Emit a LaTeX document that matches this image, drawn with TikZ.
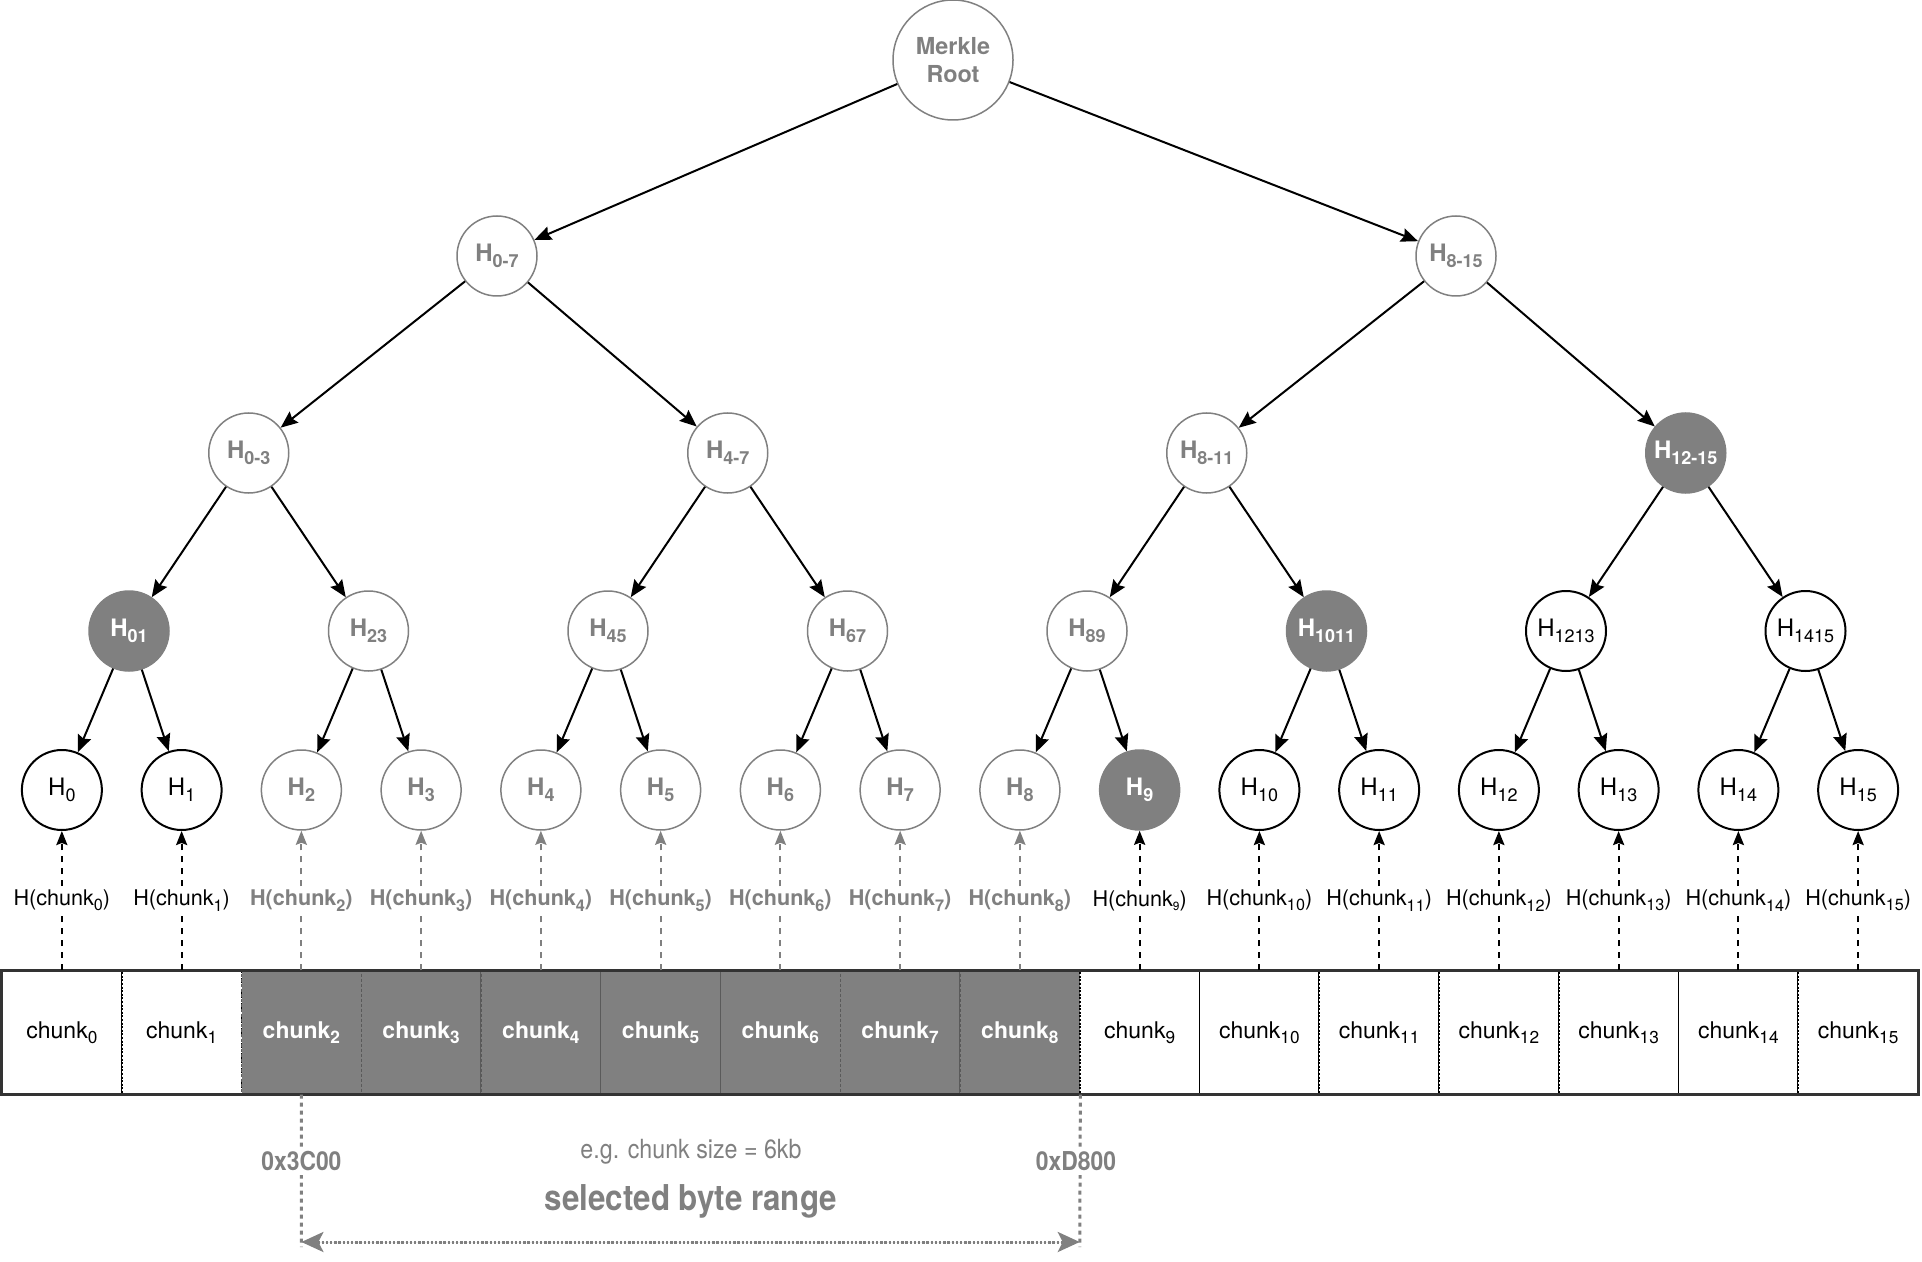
\documentclass[tikz,border=0pt]{standalone}
\usepackage{fontspec}
\setmainfont{TeX Gyre Heros}
\newfontfamily\condfont[FakeStretch=0.88]{TeX Gyre Heros}
\usepackage{graphicx}
\usetikzlibrary{arrows.meta}
\definecolor{mg}{HTML}{808080}
\definecolor{framec}{HTML}{333333}
\definecolor{sepc}{HTML}{5A5A5A}
\newcommand{\dn}[1]{\raisebox{-0.45ex}{\scalebox{0.75}{#1}}}
\newcommand{\dnn}[1]{\raisebox{-0.35ex}{\scalebox{0.55}{#1}}}
\begin{document}
\begin{tikzpicture}[x=0.5pt,y=-0.5pt,
  hn/.style={circle, minimum size=40pt, inner sep=0pt},
  blk/.style={hn, draw=black, line width=1pt, text=black, font=\fontsize{12}{14}\selectfont},
  gry/.style={hn, draw=mg, line width=0.75pt, text=mg, font=\fontsize{12}{14}\selectfont\bfseries},
  fil/.style={hn, fill=mg, draw=mg, line width=0.75pt, text=white, font=\fontsize{12}{14}\selectfont\bfseries},
  edge/.style={-{Stealth[length=8.5pt,width=7pt,inset=1.2pt]}, line width=1pt, black},
  ch0/.style={rectangle, minimum width=59.875pt, minimum height=61.5pt, inner sep=0pt,
     draw=black, line width=0.8pt, dash pattern=on 1pt off 0.8pt, fill=white, text=black,
     font=\fontsize{11.5}{13}\selectfont},
  ch1/.style={rectangle, minimum width=59.875pt, minimum height=61.5pt, inner sep=0pt,
     draw=sepc, line width=0.6pt, dash pattern=on 1.5pt off 1pt, fill=mg, text=white,
     font=\fontsize{11.5}{13}\selectfont\bfseries},
  ar0/.style={-{Stealth[length=7pt,width=5.5pt,inset=1pt]}, line width=1.1pt, black, dash pattern=on 3pt off 3pt},
  ar1/.style={-{Stealth[length=7pt,width=5.5pt,inset=1pt]}, line width=1.1pt, mg, dash pattern=on 3pt off 3pt},
  hl0/.style={fill=white, inner sep=1.5pt, text=black, font=\fontsize{10.8}{12}\selectfont},
  hl1/.style={fill=white, inner sep=1.5pt, text=mg, font=\fontsize{10.8}{12}\selectfont\bfseries},
  framest/.style={draw=framec, line width=1.5pt},
  vdash/.style={draw=mg, line width=1.5pt, dash pattern=on 2pt off 2pt},
  rangear/.style={{Stealth[length=11pt,width=10pt,inset=2.5pt]}-{Stealth[length=11pt,width=10pt,inset=2.5pt]},
     draw=mg, fill=mg, line width=1.5pt, dash pattern=on 1.2pt off 0.9pt},
  addr/.style={fill=white, inner sep=2pt, text=mg, font=\condfont\fontsize{13}{15}\selectfont\bfseries},
]
\useasboundingbox (0,0) rectangle (1922,1262);

% ---------- tree nodes ----------
\node[gry, minimum size=60pt, align=center, font=\fontsize{11.7}{14}\selectfont\bfseries] (root) at (953,60) {Merkle\\Root};

\node[gry] (a0) at (497,256) {H\dn{0-7}};
\node[gry] (a1) at (1456,256) {H\dn{8-15}};

\node[gry] (b0) at (248.75,453) {H\dn{0-3}};
\node[gry] (b1) at (727.75,453) {H\dn{4-7}};
\node[gry] (b2) at (1206.75,453) {H\dn{8-11}};
\node[fil] (b3) at (1685.75,453) {H\dn{12-15}};

\node[fil] (d0) at (129,631) {H\dn{01}};
\node[gry] (d1) at (368.5,631) {H\dn{23}};
\node[gry] (d2) at (608,631) {H\dn{45}};
\node[gry] (d3) at (847.5,631) {H\dn{67}};
\node[gry] (d4) at (1087,631) {H\dn{89}};
\node[fil] (d5) at (1326.5,631) {H\dn{1011}};
\node[blk] (d6) at (1566,631) {H\dn{1213}};
\node[blk] (d7) at (1805.5,631) {H\dn{1415}};

\foreach \i in {0,...,15}{
  \pgfmathsetmacro\lx{61.875+119.75*\i}
  \ifnum\i=9
    \node[fil] (L\i) at (\lx,790) {H\dn{\i}};
  \else
    \pgfmathtruncatemacro\sel{(\i>1)&&(\i<9)}
    \ifnum\sel=1
      \node[gry] (L\i) at (\lx,790) {H\dn{\i}};
    \else
      \node[blk] (L\i) at (\lx,790) {H\dn{\i}};
    \fi
  \fi
}

% ---------- tree edges ----------
\foreach \p/\c in {root/a0,root/a1,a0/b0,a0/b1,a1/b2,a1/b3,
                   b0/d0,b0/d1,b1/d2,b1/d3,b2/d4,b2/d5,b3/d6,b3/d7}
  \draw[edge] (\p) -- (\c);
\foreach \i in {0,...,15}{
  \pgfmathtruncatemacro\pp{int(\i/2)}
  \draw[edge] (d\pp) -- (L\i);
}

% ---------- chunks ----------
\foreach \i in {0,...,15}{
  \pgfmathsetmacro\cx{61.875+119.75*\i}
  \pgfmathtruncatemacro\sel{(\i>1)&&(\i<9)}
  \node[ch\sel] (k\i) at (\cx,1032.5) {chunk\dn{\i}};
}
\draw[framest] (k0.north west) rectangle (k15.south east);

% ---------- hash arrows ----------
\foreach \i in {0,...,15}{
  \pgfmathtruncatemacro\sel{(\i>1)&&(\i<9)}
  \ifnum\i=9
    \draw[ar\sel] (k\i.north) -- (L\i.south) node[midway, hl\sel] {H(chunk\dnn{\i})};
  \else
    \draw[ar\sel] (k\i.north) -- (L\i.south) node[midway, hl\sel] {H(chunk\dn{\i})};
  \fi
}

% ---------- byte range ----------
\coordinate (bl) at (301.4,1242);
\coordinate (br) at (1079.75,1242);
\coordinate (blb) at (301.4,1247);
\coordinate (brb) at (1079.75,1247);
\draw[vdash] (k2.south) -- (blb);
\draw[vdash] (k8.south east) -- (brb);
\node[addr] (s0) at (301.4,1161) {0x3C00};
\node[addr] (s1) at (1076,1161) {0xD800};
\node[text=mg, font=\condfont\fontsize{13.2}{15}\selectfont] (eg) at (691,1152) {e.g. chunk size = 6kb};
\node[text=mg, font=\condfont\fontsize{17.8}{20}\selectfont\bfseries] (sel) at (691,1201) {selected byte range};
\draw[rangear] (bl) -- (br);
\end{tikzpicture}
\end{document}
